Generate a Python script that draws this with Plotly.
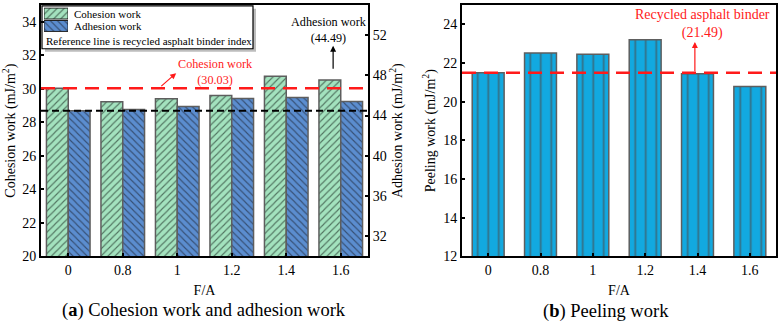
import plotly.graph_objects as go

# ---------------- data ----------------
fa_labels = ["0", "0.8", "1", "1.2", "1.4", "1.6"]
cohesion = [30.03, 29.22, 29.40, 29.60, 30.75, 30.52]
adhesion = [44.49, 44.60, 44.90, 45.70, 45.80, 45.40]
peeling = [21.49, 22.52, 22.45, 23.20, 21.44, 20.78]
ref_cohesion = 30.03
ref_adhesion = 44.49
ref_peeling = 21.49

W, H = 781, 322
FONT = "Times New Roman, Liberation Serif, Tinos, DejaVu Serif, serif"
GREEN = "#a3e2be"
BLUE = "#5b8dcf"
CYAN = "#12a9e0"
EDGE = "#5e5e5e"

xs = list(range(len(fa_labels)))

def px(v):
    return v / W

def py(v):
    return 1 - v / H

fig = go.Figure()

fig.add_trace(go.Bar(
    x=xs, y=cohesion, name="Cohesion work", xaxis="x", yaxis="y",
    width=0.4, offset=-0.4,
    marker=dict(color=GREEN, line=dict(color=EDGE, width=1.5),
                pattern=dict(shape="/", size=5, solidity=0.22, fgcolor="#3d5a4a", fgopacity=0.8)),
    showlegend=False))
fig.add_trace(go.Bar(
    x=xs, y=adhesion, name="Adhesion work", xaxis="x", yaxis="y2",
    width=0.4, offset=0.0,
    marker=dict(color=BLUE, line=dict(color=EDGE, width=1.5),
                pattern=dict(shape="\\", size=5, solidity=0.22, fgcolor="#2c3f5c", fgopacity=0.8)),
    showlegend=False))
fig.add_trace(go.Bar(
    x=xs, y=peeling, name="Peeling work", xaxis="x2", yaxis="y3",
    width=0.61,
    marker=dict(color=CYAN, line=dict(color=EDGE, width=1.5),
                pattern=dict(shape="|", size=10.5, solidity=0.17, fgcolor="#4a4a4a", fgopacity=0.6)),
    showlegend=False))

# legend swatches (auxiliary axes)
fig.add_trace(go.Bar(
    y=[1], x=[1], orientation="h", xaxis="x3", yaxis="y4", width=0.88,
    marker=dict(color=GREEN, line=dict(color="#222", width=1),
                pattern=dict(shape="/", size=5, solidity=0.22, fgcolor="#3d5a4a", fgopacity=0.8)),
    showlegend=False, hoverinfo="skip"))
fig.add_trace(go.Bar(
    y=[0], x=[1], orientation="h", xaxis="x3", yaxis="y4", width=0.88,
    marker=dict(color=BLUE, line=dict(color="#222", width=1),
                pattern=dict(shape="\\", size=5, solidity=0.22, fgcolor="#2c3f5c", fgopacity=0.8)),
    showlegend=False, hoverinfo="skip"))

dom_y = [py(263), py(5)]
axis_common = dict(showline=True, linecolor="black", linewidth=2, ticks="inside",
                   ticklen=3, tickwidth=1.5, tickcolor="black", showgrid=False, zeroline=False,
                   tickfont=dict(family=FONT, size=14, color="black"))

fig.update_layout(
    width=W, height=H, autosize=False,
    margin=dict(l=0, r=0, t=0, b=0),
    paper_bgcolor="white", plot_bgcolor="rgba(0,0,0,0)",
    font=dict(family=FONT, color="black"),
    barmode="overlay",
    xaxis=dict(domain=[px(41), px(368)], range=[-0.5, 5.5], tickvals=xs, ticktext=fa_labels,
               mirror=True, anchor="y",
               title=dict(text="F/A", font=dict(family=FONT, size=14), standoff=8),
               **axis_common),
    yaxis=dict(domain=dom_y, range=[20, 35], tickvals=[20, 22, 24, 26, 28, 30, 32, 34], anchor="x",
               title=dict(text="Cohesion work (mJ/m<sup>2</sup>)", font=dict(family=FONT, size=14), standoff=4),
               **axis_common),
    yaxis2=dict(domain=dom_y, range=[30, 55], tickvals=[32, 36, 40, 44, 48, 52], overlaying="y",
                side="right", anchor="x",
                title=dict(text="Adhesion work (mJ/m<sup>2</sup>)", font=dict(family=FONT, size=14), standoff=4),
                **axis_common),
    xaxis2=dict(domain=[px(462), px(776)], range=[-0.5, 5.5], tickvals=xs, ticktext=fa_labels,
                mirror=True, anchor="y3",
                title=dict(text="F/A", font=dict(family=FONT, size=14), standoff=8),
                **axis_common),
    yaxis3=dict(domain=dom_y, range=[12, 25], tickvals=[12, 14, 16, 18, 20, 22, 24], anchor="x2",
                mirror=True,
                title=dict(text="Peeling work (mJ/m<sup>2</sup>)", font=dict(family=FONT, size=14), standoff=4),
                **axis_common),
    xaxis3=dict(domain=[px(44), px(68)], range=[0, 1], visible=False, anchor="y4", fixedrange=True),
    yaxis4=dict(domain=[py(33), py(7.5)], range=[-0.5, 1.5], visible=False, anchor="x3", fixedrange=True),
)

shapes = [
    # legend shadow + box
    dict(type="rect", xref="paper", yref="paper", x0=px(45), x1=px(256), y0=py(53), y1=py(9),
         fillcolor="#bdbdbd", line=dict(width=0), layer="below"),
    dict(type="rect", xref="paper", yref="paper", x0=px(42), x1=px(253), y0=py(50), y1=py(6),
         fillcolor="white", line=dict(color="black", width=1.2), layer="below"),
    # reference lines
    dict(type="line", xref="x domain", yref="y", x0=0, x1=1, y0=ref_cohesion, y1=ref_cohesion,
         line=dict(color="#ff1a1a", width=2.5, dash="14px,8px")),
    dict(type="line", xref="x domain", yref="y2", x0=0, x1=1, y0=ref_adhesion, y1=ref_adhesion,
         line=dict(color="black", width=2, dash="7px,4px")),
    dict(type="line", xref="x2 domain", yref="y3", x0=0, x1=1, y0=ref_peeling, y1=ref_peeling,
         line=dict(color="#ff1a1a", width=2.5, dash="14px,8px")),
]
fig.update_layout(shapes=shapes)

ann = []
# legend texts
ann.append(dict(xref="paper", yref="paper", x=px(72), y=py(14), xanchor="left", yanchor="middle",
                text="Cohesion work", showarrow=False, font=dict(family=FONT, size=11, color="black")))
ann.append(dict(xref="paper", yref="paper", x=px(72), y=py(27), xanchor="left", yanchor="middle",
                text="Adhesion work", showarrow=False, font=dict(family=FONT, size=11, color="black")))
ann.append(dict(xref="paper", yref="paper", x=px(44), y=py(42), xanchor="left", yanchor="middle",
                text="Reference line is recycled asphalt binder index", showarrow=False,
                font=dict(family=FONT, size=11, color="black")))
# cohesion reference annotation
ann.append(dict(xref="x", yref="y", x=2.71, y=31.0, text="Cohesion work<br>(30.03)", showarrow=False,
                font=dict(family=FONT, size=12.2, color="#ff1a1a")))
ann.append(dict(xref="x", yref="y", x=1.98, y=30.93, axref="x", ayref="y", ax=1.68, ay=30.08,
                text="", showarrow=True, arrowhead=2, arrowsize=1, arrowwidth=1.2,
                arrowcolor="#ff1a1a", standoff=0, startstandoff=0))
# adhesion reference annotation
ann.append(dict(xref="x", yref="y2", x=4.78, y=52.5, text="Adhesion work<br>(44.49)", showarrow=False,
                font=dict(family=FONT, size=12.2, color="black")))
ann.append(dict(xref="x", yref="y2", x=4.86, y=50.93, axref="x", ayref="y2", ax=4.86, ay=48.5,
                text="", showarrow=True, arrowhead=2, arrowsize=1, arrowwidth=1.2,
                arrowcolor="black", standoff=0, startstandoff=0))
# peeling reference annotation
ann.append(dict(xref="x2", yref="y3", x=4.09, y=24.0, text="Recycled asphalt binder<br>(21.49)", showarrow=False,
                font=dict(family=FONT, size=14, color="#ff1a1a")))
ann.append(dict(xref="x2", yref="y3", x=3.95, y=23.08, axref="x2", ayref="y3", ax=3.95, ay=21.49,
                text="", showarrow=True, arrowhead=2, arrowsize=1, arrowwidth=1.2,
                arrowcolor="#ff1a1a", standoff=0, startstandoff=0))
# captions
ann.append(dict(xref="paper", yref="paper", x=px(204), y=py(318), xanchor="center", yanchor="middle",
                text="(<b>a</b>) Cohesion work and adhesion work",
                showarrow=False, font=dict(family=FONT, size=18.5, color="black")))
ann.append(dict(xref="paper", yref="paper", x=px(606), y=py(319), xanchor="center", yanchor="middle",
                text="(<b>b</b>) Peeling work",
                showarrow=False, font=dict(family=FONT, size=18.5, color="black")))
fig.update_layout(annotations=ann)

fig.write_html("out.html")
